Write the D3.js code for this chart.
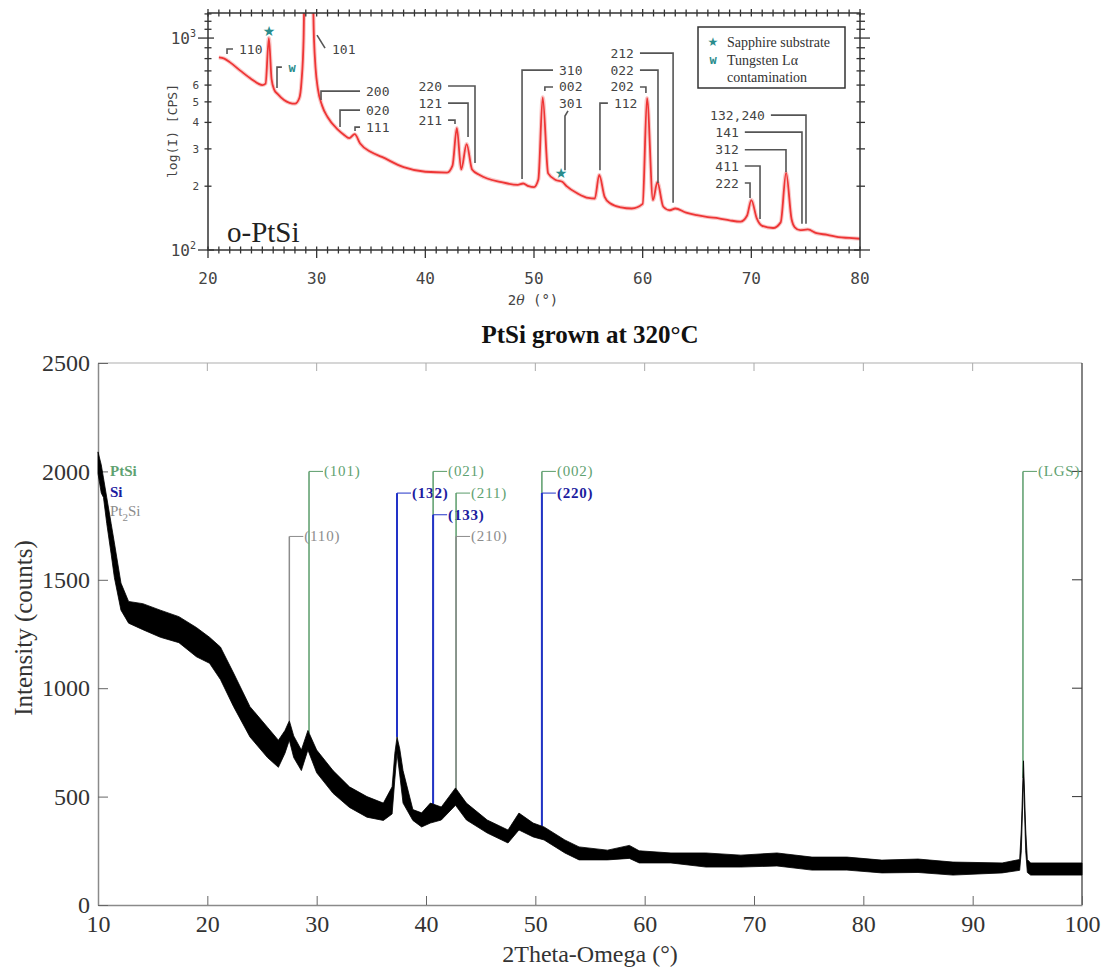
<!DOCTYPE html>
<html lang="en">
<head>
    <meta charset="UTF-8">
    <title>PtSi XRD</title>
    <script src="https://cdn.jsdelivr.net/npm/d3@7/dist/d3.min.js"></script>
    <style>
        body { margin: 0; background: #fff; }
        svg { width: 1107px; height: 969px; display: block; }
        .mono { font-family: 'DejaVu Sans Mono', monospace; fill: #444; }
        .serif { font-family: 'Liberation Serif', 'Times New Roman', serif; }
    </style>
</head>
<body>
<svg width="1107" height="969"></svg>

<script>
    // ---- top panel data (o-PtSi, log scale) ----
    var topX = [21, 21.5, 22, 23, 24, 25, 25.3, 25.6, 25.85, 26.1, 26.4, 27, 27.5, 28, 28.4, 28.6, 28.8, 28.9, 29.6, 29.75, 29.9, 30.1, 30.5, 31, 32, 32.5, 33, 33.5, 34, 35, 36, 38, 40, 42, 42.5, 42.9, 43.3, 43.8, 44.3, 45, 47, 48.5, 49, 49.5, 50, 50.4, 50.8, 51.3, 52, 52.6, 53, 54, 55, 55.6, 56, 56.5, 57, 58, 59, 60, 60.4, 60.95, 61.35, 61.9, 62.5, 63, 64, 65, 66, 67, 68, 69, 69.6, 70, 70.5, 71, 72, 72.7, 73.2, 73.7, 74, 74.5, 75.2, 76, 77, 78, 79, 80];
    var topI = [810, 800, 770, 700, 640, 600, 610, 1000, 640, 570, 545, 510, 495, 490, 520, 620, 1000, 2000, 2000, 1000, 720, 580, 480, 424, 368, 350, 337, 352, 318, 290, 275, 246, 234, 232, 250, 376, 240, 316, 240, 226, 209, 203, 206, 200, 198, 215, 525, 230, 214, 210, 200, 185, 176, 175, 226, 178, 166, 159, 157, 165, 521, 172, 209, 160, 154, 157, 150, 146, 143, 141, 138, 136, 145, 172, 141, 130, 127, 135, 231, 140, 128, 124, 125, 120, 118, 115, 114, 113];

    var topTicksX = [20, 30, 40, 50, 60, 70, 80];

    // peak annotations: label, side of text, line start, peak position, label level, line end
    var annText = ['110', '200', '020', '111', '220', '121', '211', '310', '002', '112', '212', '022', '202', '132,240', '141', '312', '411', '222'];
    var annSide = ['r', 'r', 'r', 'r', 'l', 'l', 'l', 'r', 'r', 'r', 'l', 'l', 'l', 'l', 'l', 'l', 'l', 'l'];
    var annStartX = [22.3, 33.99, 33.99, 33.99, 42.09, 42.09, 42.09, 51.75, 51.75, 56.8, 59.75, 59.75, 59.75, 71.8, 69.4, 69.4, 69.4, 69.4];
    var annPeakX = [21.75, 30.4, 32.15, 33.53, 44.57, 43.93, 42.73, 48.9, 51.0, 56.07, 62.8, 61.41, 60.3, 75.03, 74.66, 73.19, 70.8, 69.88];
    var annI = [888, 562, 457, 380, 594, 493, 410, 706, 588, 493, 849, 706, 588, 433, 360, 297, 249, 207];
    var annEndI = [841, 510, 380, 364, 257, 341, 393, 216, 562, 238, 167, 207, 550, 133, 133, 233, 140, 176];

    // ---- bottom panel data (PtSi grown at 320 C) ----
    var scanX = [10.0, 10.3, 10.5, 10.8, 11.2, 11.5, 12.1, 12.8, 14.1, 15.7, 17.4, 19.0, 20.2, 21.2, 22.4, 23.9, 25.5, 26.5, 27.1, 27.5, 27.9, 28.6, 29.2, 30.0, 31.5, 33.0, 34.6, 36.1, 36.9, 37.15, 37.35, 37.6, 37.9, 38.8, 39.6, 40.4, 41.4, 42.7, 43.7, 45.6, 47.5, 48.5, 49.8, 50.8, 52.7, 54.0, 56.6, 58.6, 59.5, 62.4, 65.6, 68.8, 72.1, 75.3, 78.5, 81.7, 85.0, 88.2, 92.7, 94.3, 94.45, 94.65, 94.85, 95.0, 95.3, 100];
    var scanLo = [1990, 1900, 1880, 1760, 1620, 1510, 1360, 1300, 1270, 1235, 1210, 1145, 1115, 1040, 915, 775, 680, 635, 700, 760, 680, 620, 715, 610, 515, 450, 405, 390, 420, 580, 700, 600, 470, 390, 360, 378, 392, 460, 392, 332, 286, 346, 314, 300, 240, 208, 208, 215, 194, 194, 175, 175, 180, 161, 161, 148, 150, 138, 148, 160, 250, 590, 250, 150, 138, 138];
    var scanHi = [2090, 2030, 1970, 1880, 1760, 1670, 1485, 1400, 1390, 1360, 1330, 1280, 1235, 1190, 1070, 915, 820, 760, 805, 850, 780, 715, 805, 715, 620, 545, 500, 470, 545, 700, 775, 720, 620, 440, 425, 470, 452, 540, 470, 392, 346, 424, 378, 360, 300, 268, 253, 275, 250, 240, 240, 230, 240, 221, 221, 207, 212, 198, 194, 210, 350, 665, 350, 210, 194, 194];

    var refLabel = ['(110)', '(101)', '(132)', '(021)', '(133)', '(211)', '(210)', '(002)', '(220)', '(LGS)'];
    var refPhase = ['Pt2Si', 'PtSi', 'Si', 'PtSi', 'Si', 'PtSi', 'Pt2Si', 'PtSi', 'Si', 'PtSi'];
    var refPos = [27.5, 29.3, 37.35, 40.65, 40.65, 42.75, 42.75, 50.6, 50.6, 94.6];
    var refTop = [1700, 2000, 1900, 2000, 1800, 1900, 1700, 2000, 1900, 2000];

    var phaseColor = {PtSi: '#5a9c6a', Si: '#2233c8', Pt2Si: '#8c8c8c'};
    var phaseText = {PtSi: '#5fa271', Si: '#1c1ca0', Pt2Si: '#8c8c8c'};

    var svg = d3.select('svg');

    // ================= top panel =================
    var xTop = d3.scaleLinear().domain([20, 80]).range([208, 860]);
    var yTop = d3.scaleLog().domain([100, 1313]).range([250, 13]);
    var gTop = svg.append('g');

    svg.append('defs').append('clipPath').attr('id', 'clipTop')
        .append('rect')
        .attr('x', xTop(20)).attr('y', yTop(1313))
        .attr('width', xTop(80) - xTop(20)).attr('height', yTop(100) - yTop(1313));

    var topData = d3.zip(topX, topI);
    var redLine = d3.line()
        .x(function (d) { return xTop(d[0]); })
        .y(function (d) { return yTop(d[1]); })
        .curve(d3.curveMonotoneX);

    gTop.append('path').datum(topData)
        .attr('clip-path', 'url(#clipTop)')
        .attr('d', redLine)
        .attr('fill', 'none').attr('stroke', '#f6a3a3').attr('stroke-width', 4).attr('opacity', 0.6);
    gTop.append('path').datum(topData)
        .attr('clip-path', 'url(#clipTop)')
        .attr('d', redLine)
        .attr('fill', 'none').attr('stroke', '#ee3535').attr('stroke-width', 1.8);

    // frame
    gTop.append('rect')
        .attr('x', xTop(20)).attr('y', yTop(1313))
        .attr('width', xTop(80) - xTop(20)).attr('height', yTop(100) - yTop(1313))
        .attr('fill', 'none').attr('stroke', '#333').attr('stroke-width', 1.5);

    // x ticks on top and bottom edges
    var xMinor = d3.range(20, 81, 1);
    var y0 = yTop(100), y1 = yTop(1313);
    xMinor.forEach(function (v) {
        var major = v % 10 === 0;
        var x = xTop(v);
        gTop.append('line').attr('x1', x).attr('x2', x)
            .attr('y1', y0 - 3.5).attr('y2', y0 + (major ? 8 : 3.5))
            .attr('stroke', '#333').attr('stroke-width', 1.3);
        gTop.append('line').attr('x1', x).attr('x2', x)
            .attr('y1', y1 - (major ? 4 : 3.5)).attr('y2', y1 + 3.5)
            .attr('stroke', '#333').attr('stroke-width', 1.3);
    });

    // y ticks (log) on left and right edges
    var yMinor = d3.range(100, 1301, 100);
    var xl = xTop(20), xr = xTop(80);
    yMinor.forEach(function (v) {
        var major = (v === 100 || v === 1000);
        var y = yTop(v);
        gTop.append('line').attr('x1', xl - (major ? 10 : 3.5)).attr('x2', xl + (major ? 6 : 3.5))
            .attr('y1', y).attr('y2', y).attr('stroke', '#333').attr('stroke-width', 1.3);
        gTop.append('line').attr('x1', xr - (major ? 6 : 3.5)).attr('x2', xr + (major ? 10 : 5))
            .attr('y1', y).attr('y2', y).attr('stroke', '#333').attr('stroke-width', 1.3);
    });

    gTop.selectAll('.xlab').data(topTicksX).enter().append('text')
        .attr('class', 'mono')
        .attr('x', function (d) { return xTop(d); })
        .attr('y', 278).attr('dy', '0.35em')
        .attr('text-anchor', 'middle').attr('font-size', 16)
        .text(function (d) { return d; });

    [1000, 100].forEach(function (v) {
        var t = gTop.append('text').attr('class', 'mono')
            .attr('x', 196).attr('y', yTop(v) + 6)
            .attr('text-anchor', 'end').attr('font-size', 16);
        t.append('tspan').text('10');
        t.append('tspan').attr('dy', -7).attr('font-size', 10).text(v === 1000 ? '3' : '2');
    });
    gTop.selectAll('.ysm').data([200, 300, 400, 500, 600]).enter().append('text')
        .attr('class', 'mono')
        .attr('x', 199).attr('y', function (d) { return yTop(d); }).attr('dy', '0.35em')
        .attr('text-anchor', 'end').attr('font-size', 11)
        .text(function (d) { return d / 100; });

    var xt = gTop.append('text').attr('class', 'mono')
        .attr('x', 533).attr('y', 300).attr('dy', '0.35em')
        .attr('text-anchor', 'middle').attr('font-size', 14);
    xt.append('tspan').text('2');
    xt.append('tspan').attr('font-style', 'italic').attr('font-family', 'DejaVu Serif').text('θ');
    xt.append('tspan').text(' (°)');

    gTop.append('text').attr('class', 'mono')
        .attr('transform', 'translate(172,131) rotate(-90)')
        .attr('text-anchor', 'middle').attr('dy', '0.35em').attr('font-size', 13)
        .text('log(I)  [CPS]');

    gTop.append('text').attr('class', 'serif')
        .attr('x', 227).attr('y', 242).attr('font-size', 29).attr('fill', '#222')
        .text('o-PtSi');

    // bracket annotations
    annText.forEach(function (t, i) {
        var sx = xTop(annStartX[i]), px = xTop(annPeakX[i]);
        var y = yTop(annI[i]), y2 = yTop(annEndI[i]);
        gTop.append('path')
            .attr('d', 'M' + sx + ',' + y + 'H' + px + 'V' + y2)
            .attr('fill', 'none').attr('stroke', '#555').attr('stroke-width', 1.6);
        gTop.append('text').attr('class', 'mono')
            .attr('x', annSide[i] === 'r' ? sx + 6 : sx - 6)
            .attr('y', y).attr('dy', '0.35em')
            .attr('text-anchor', annSide[i] === 'r' ? 'start' : 'end')
            .attr('font-size', 13).attr('fill', '#444')
            .text(t);
    });

    // 101, 301 and W use bent leaders
    var leader = d3.line().x(function (d) { return xTop(d[0]); }).y(function (d) { return yTop(d[1]); });
    gTop.append('path').attr('d', leader([[30.03, 1033], [30.77, 897]]))
        .attr('fill', 'none').attr('stroke', '#555').attr('stroke-width', 1.6);
    gTop.append('text').attr('class', 'mono').attr('x', xTop(31.41)).attr('y', yTop(888)).attr('dy', '0.35em')
        .attr('font-size', 13).text('101');
    gTop.append('path').attr('d', leader([[53.13, 453], [52.85, 429], [52.85, 238]]))
        .attr('fill', 'none').attr('stroke', '#555').attr('stroke-width', 1.6);
    gTop.append('text').attr('class', 'mono').attr('x', xTop(51.75) + 6).attr('y', yTop(493)).attr('dy', '0.35em')
        .attr('font-size', 13).text('301');
    gTop.append('path').attr('d', leader([[26.8, 729], [26.35, 729], [26.35, 581]]))
        .attr('fill', 'none').attr('stroke', '#555').attr('stroke-width', 1.6);

    var teal = '#2a8c8c';
    gTop.append('text').attr('class', 'mono').attr('x', xTop(27.73)).attr('y', yTop(721)).attr('dy', '0.35em')
        .attr('text-anchor', 'middle').attr('font-size', 12).attr('font-weight', 'bold').style('fill', teal).text('w');
    [[25.61, 1079], [52.48, 231]].forEach(function (p) {
        gTop.append('text').attr('x', xTop(p[0])).attr('y', yTop(p[1])).attr('dy', '0.35em')
            .attr('text-anchor', 'middle').attr('font-size', 14).attr('fill', teal)
            .attr('font-family', 'DejaVu Sans').text('★');
    });

    // legend
    var lg = gTop.append('g').attr('transform', 'translate(698,27)');
    lg.append('rect').attr('width', 147).attr('height', 61)
        .attr('fill', '#fff').attr('stroke', '#333').attr('stroke-width', 1.5);
    lg.append('text').attr('x', 15).attr('y', 15).attr('dy', '0.35em').attr('text-anchor', 'middle')
        .attr('font-size', 12).attr('fill', teal).attr('font-family', 'DejaVu Sans').text('★');
    lg.append('text').attr('x', 15).attr('y', 33).attr('dy', '0.35em').attr('text-anchor', 'middle')
        .attr('font-size', 12).attr('font-weight', 'bold').attr('fill', teal).attr('font-family', 'DejaVu Sans Mono').text('w');
    [['Sapphire substrate', 15], ['Tungsten L\u03b1', 33], ['contamination', 50]].forEach(function (r) {
        lg.append('text').attr('class', 'serif').attr('x', 29).attr('y', r[1]).attr('dy', '0.35em')
            .attr('font-size', 14).attr('fill', '#333').text(r[0]);
    });

    // ================= bottom panel =================
    var xBot = d3.scaleLinear().domain([10, 100]).range([98, 1082]);
    var yBot = d3.scaleLinear().domain([0, 2500]).range([905, 363]);
    var gBot = svg.append('g');

    // top and right edges
    gBot.append('line').attr('x1', xBot(10)).attr('x2', xBot(100)).attr('y1', yBot(2500)).attr('y2', yBot(2500))
        .attr('stroke', '#c8c8c8').attr('stroke-width', 1.5);
    gBot.selectAll('.tt').data(d3.range(20, 100, 10)).enter().append('line')
        .attr('x1', function (d) { return xBot(d); }).attr('x2', function (d) { return xBot(d); })
        .attr('y1', yBot(2500)).attr('y2', yBot(2500) + 8)
        .attr('stroke', '#aaa').attr('stroke-width', 1);
    gBot.append('line').attr('x1', xBot(100)).attr('x2', xBot(100)).attr('y1', yBot(2500)).attr('y2', yBot(0))
        .attr('stroke', '#333').attr('stroke-width', 1.2);
    gBot.selectAll('.rt').data(d3.range(500, 2500, 500)).enter().append('line')
        .attr('x1', xBot(100) - 10).attr('x2', xBot(100))
        .attr('y1', function (d) { return yBot(d); }).attr('y2', function (d) { return yBot(d); })
        .attr('stroke', '#333').attr('stroke-width', 1);

    var ax = gBot.append('g').attr('transform', 'translate(0,' + yBot(0) + ')')
        .call(d3.axisBottom(xBot).tickValues(d3.range(10, 101, 10)).tickFormat(d3.format('d'))
            .tickSizeInner(-9).tickSizeOuter(0).tickPadding(10));
    var ay = gBot.append('g').attr('transform', 'translate(' + xBot(10) + ',0)')
        .call(d3.axisLeft(yBot).tickValues(d3.range(0, 2501, 500)).tickFormat(d3.format('d'))
            .tickSizeInner(-10).tickSizeOuter(0).tickPadding(8));
    [ax, ay].forEach(function (a) {
        a.select('.domain').attr('stroke', '#8a8a8a').attr('stroke-width', 1.5);
        a.selectAll('.tick line').attr('stroke', '#666');
        a.selectAll('.tick text').attr('font-family', "'Liberation Serif', serif")
            .attr('font-size', 24).attr('fill', '#333');
    });

    // reference lines (drawn under the scan, ending on its upper edge)
    var hiAt = d3.scaleLinear().domain(scanX).range(scanHi);
    refPos.forEach(function (p, i) {
        var x = xBot(p), yt = yBot(refTop[i]);
        var c = phaseColor[refPhase[i]];
        gBot.append('line').attr('x1', x).attr('x2', x).attr('y1', yt).attr('y2', yBot(hiAt(p)))
            .attr('stroke', c).attr('stroke-width', refPhase[i] === 'Si' ? 2 : 1.5);
        gBot.append('line').attr('x1', x).attr('x2', x + 14).attr('y1', yt).attr('y2', yt)
            .attr('stroke', c).attr('stroke-width', 1);
        gBot.append('text').attr('class', 'serif')
            .attr('x', x + 15).attr('y', yt).attr('dy', '0.33em')
            .attr('font-size', 15).attr('letter-spacing', 0.8)
            .attr('font-weight', refPhase[i] === 'Si' ? 'bold' : 'normal')
            .attr('fill', phaseText[refPhase[i]])
            .text(refLabel[i]);
    });

    // measured scan as a band between lower and upper envelope
    var scanData = scanX.map(function (x, i) { return {x: x, lo: scanLo[i], hi: scanHi[i]}; });
    gBot.append('path').datum(scanData)
        .attr('d', d3.area()
            .x(function (d) { return xBot(d.x); })
            .y0(function (d) { return yBot(d.lo); })
            .y1(function (d) { return yBot(d.hi); }))
        .attr('fill', '#000').attr('stroke', '#000').attr('stroke-width', 0.8);

    // phase legend
    var leg = [['PtSi', 2000], ['Si', 1905], ['Pt2Si', 1815]];
    leg.forEach(function (l) {
        var t = gBot.append('text').attr('class', 'serif')
            .attr('x', 110).attr('y', yBot(l[1])).attr('dy', '0.33em')
            .attr('font-size', 15).attr('fill', phaseText[l[0]])
            .attr('font-weight', l[0] === 'Pt2Si' ? 'normal' : 'bold');
        if (l[0] === 'Pt2Si') {
            t.append('tspan').text('Pt');
            t.append('tspan').attr('dy', 5).attr('font-size', 11).text('2');
            t.append('tspan').attr('dy', -5).text('Si');
        } else {
            t.text(l[0]);
        }
    });

    gBot.append('text').attr('class', 'serif')
        .attr('x', 590).attr('y', 343).attr('text-anchor', 'middle')
        .attr('font-size', 25).attr('font-weight', 'bold').attr('fill', '#111')
        .text('PtSi grown at 320°C');

    gBot.append('text').attr('class', 'serif')
        .attr('x', 590).attr('y', 962).attr('text-anchor', 'middle')
        .attr('font-size', 24).attr('fill', '#333')
        .text('2Theta-Omega (°)');

    gBot.append('text').attr('class', 'serif')
        .attr('transform', 'translate(23,628) rotate(-90)')
        .attr('text-anchor', 'middle').attr('dy', '0.35em')
        .attr('font-size', 25).attr('fill', '#333')
        .text('Intensity (counts)');
</script>

</body>
</html>
